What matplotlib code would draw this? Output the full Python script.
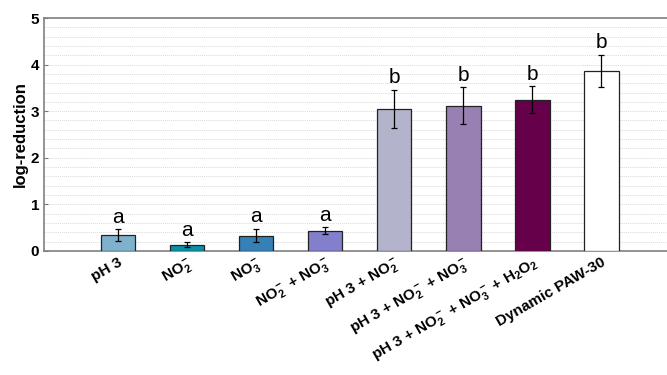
import numpy as np
import matplotlib.pyplot as plt

plt.rcParams["font.family"] = ["Liberation Sans", "DejaVu Sans"]
plt.rcParams["mathtext.fontset"] = "custom"
plt.rcParams["mathtext.rm"] = "Liberation Sans:bold"
plt.rcParams["mathtext.bf"] = "Liberation Sans:bold"
plt.rcParams["mathtext.it"] = "Liberation Sans:bold"
plt.rcParams["mathtext.default"] = "bf"

# data
labels = [
    "pH 3",
    r"NO$_2^-$",
    r"NO$_3^-$",
    r"NO$_2^-$ + NO$_3^-$",
    r"pH 3 + NO$_2^-$",
    r"pH 3 + NO$_2^-$ + NO$_3^-$",
    r"pH 3 + NO$_2^-$ + NO$_3^-$ + H$_2$O$_2$",
    "Dynamic PAW-30",
]
means = [0.34, 0.13, 0.33, 0.43, 3.05, 3.12, 3.25, 3.86]
errors = [0.13, 0.05, 0.15, 0.075, 0.41, 0.40, 0.29, 0.35]
letters = ["a", "a", "a", "a", "b", "b", "b", "b"]
colors = ["#7fb1cc", "#0a8fa6", "#3580b4", "#8280cc",
          "#b3b3cc", "#9980b3", "#66004a", "#ffffff"]

fig = plt.figure(figsize=(6.67, 3.75), dpi=100)
ax = fig.add_axes([0.066, 0.331, 0.934, 0.621])

x = np.arange(1, len(means) + 1)
ax.bar(x, means, width=0.5, color=colors, edgecolor="#222222", linewidth=0.9, zorder=3)
ax.errorbar(x, means, yerr=errors, fmt="none", ecolor="black", elinewidth=0.9,
            capsize=2, capthick=0.9, zorder=4)

for xi, m, e, t in zip(x, means, errors, letters):
    ax.text(xi, m + e + 0.05, t, ha="center", va="bottom", fontsize=15,
            fontweight="normal")

ax.set_xlim(-0.07, 8.95)
ax.set_ylim(0, 5)
ax.set_yticks([0, 1, 2, 3, 4, 5])
ax.set_yticks(np.arange(0, 5.01, 0.2), minor=True)
ax.yaxis.grid(True, which="minor", linestyle=(0, (1, 1)), color="#d8d8d8", linewidth=0.7)
ax.yaxis.grid(True, which="major", linestyle=(0, (1, 1)), color="#d8d8d8", linewidth=0.7)
ax.set_axisbelow(True)
ax.tick_params(axis="y", which="minor", length=0)
ax.tick_params(axis="y", which="major", length=3, direction="in", labelsize=11, color="#777777")
ax.tick_params(axis="x", length=0, pad=3)

ax.set_xticks(x)
ax.set_xticklabels(labels, rotation=30, ha="right", rotation_mode="anchor",
                   fontsize=11, fontweight="bold")
for lbl in ax.get_yticklabels():
    lbl.set_fontweight("bold")
ax.set_ylabel("log-reduction", fontsize=12, fontweight="bold", labelpad=2)

for s in ["left", "top", "bottom"]:
    ax.spines[s].set_color("#808080")
    ax.spines[s].set_linewidth(1.2)
ax.spines["right"].set_visible(False)

fig.savefig("out.png", dpi=100)
